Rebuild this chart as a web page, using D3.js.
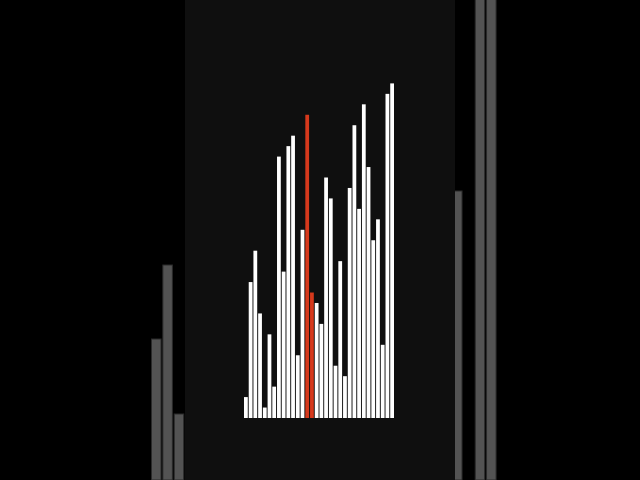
<!DOCTYPE html>
<html>
<head>
<meta charset="utf-8">
<script src="https://cdn.jsdelivr.net/npm/d3@7"></script>
<style>
  html, body { margin: 0; padding: 0; background: #000; overflow: hidden; }
</style>
</head>
<body>
<div id="chart"></div>
<script>
// Current array state (permutation of 1..32)
const values = [2, 13, 16, 10, 1, 8, 3, 25, 14, 26, 27, 6, 18, 29, 12, 11,
                9, 23, 21, 5, 15, 4, 22, 28, 20, 30, 24, 17, 19, 7, 31, 32];
// Indexes being compared
const active = [13, 14];

// Out-of-focus background bars (left and right of the panel)
const ghostLeft = [141, 215, 66];
const ghostRight = [289, 0, 520, 520];

const width = 640;
const height = 480;

const svg = d3.select('#chart')
  .append('svg')
  .attr('width', width)
  .attr('height', height);

svg.append('rect')
  .attr('width', width)
  .attr('height', height)
  .attr('fill', '#000');

// Ghost bars
const yGhost = d3.scaleLinear().domain([0, 480]).range([480, 0]);
const ghostStep = 11.35;

function ghostScale(n, start) {
  return d3.scaleBand()
    .domain(d3.range(n))
    .range([start, start + ghostStep * n])
    .paddingInner(0.16)
    .paddingOuter(0.08)
    .align(0);
}

const xGhostLeft = ghostScale(ghostLeft.length, 151.5);
const xGhostRight = ghostScale(ghostRight.length, 452.5);

function drawGhosts(data, x) {
  svg.append('g')
    .selectAll('rect')
    .data(data)
    .enter()
    .append('rect')
    .attr('x', (d, i) => x(i))
    .attr('y', d => yGhost(d))
    .attr('width', x.bandwidth())
    .attr('height', d => yGhost(0) - yGhost(d))
    .attr('fill', '#535353')
    .attr('stroke', '#2a2a2a')
    .attr('stroke-width', 1);
}
drawGhosts(ghostLeft, xGhostLeft);
drawGhosts(ghostRight, xGhostRight);

// Foreground panel
svg.append('rect')
  .attr('x', 185)
  .attr('y', 0)
  .attr('width', 270)
  .attr('height', height)
  .attr('fill', '#0f0f0f');

// Main bars
const x = d3.scaleBand()
  .domain(d3.range(values.length))
  .range([244, 394])
  .paddingInner(0.2);

const y = d3.scaleLinear()
  .domain([0, 32])
  .range([418, 83.4]);

svg.append('g')
  .selectAll('rect')
  .data(values)
  .enter()
  .append('rect')
  .attr('x', (d, i) => x(i))
  .attr('y', d => y(d))
  .attr('width', x.bandwidth())
  .attr('height', d => y(0) - y(d))
  .attr('fill', (d, i) => active.includes(i) ? '#d6391c' : '#ffffff');
</script>
</body>
</html>
